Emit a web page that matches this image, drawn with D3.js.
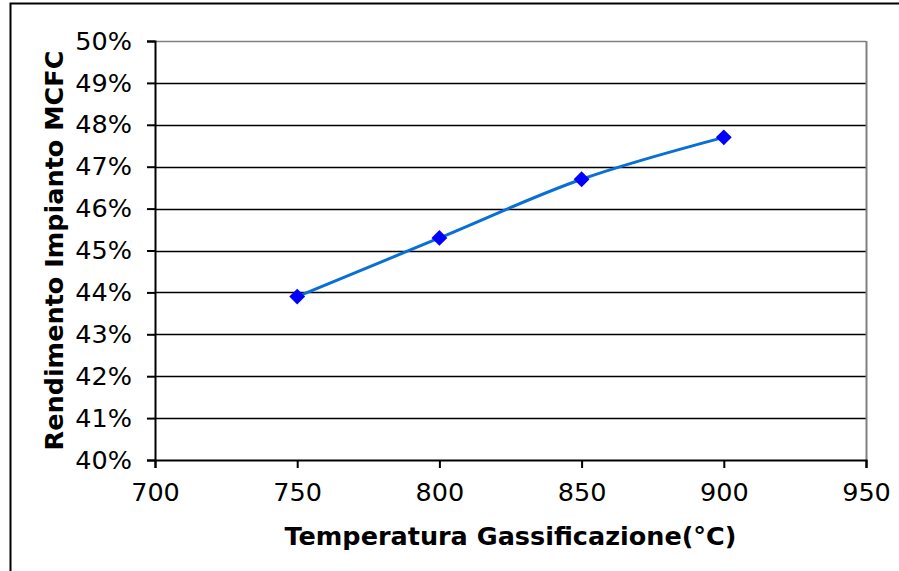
<!DOCTYPE html>
<html>
<head>
<meta charset="utf-8">
<script src="https://cdn.jsdelivr.net/npm/d3@7"></script>
<style>
  body { margin: 0; background: #fff; }
  svg { display: block; }
</style>
</head>
<body>
<div id="chart"></div>
<script>
// Data
var temps = [750, 800, 850, 900];
var rendimento = [0.439, 0.453, 0.467, 0.477];
var xTicks = [700, 750, 800, 850, 900, 950];
var yTicks = [0.40, 0.41, 0.42, 0.43, 0.44, 0.45, 0.46, 0.47, 0.48, 0.49, 0.50];

var W = 899, H = 571;
var margin = { top: 41, right: 33, bottom: 111, left: 155 },
    width = W - margin.left - margin.right,
    height = H - margin.top - margin.bottom;

var font = "DejaVu Sans, Verdana, sans-serif";

var root = d3.select("#chart").append("svg")
    .attr("width", W)
    .attr("height", H);

// outer chart frame (only left and top edges visible)
root.append("rect")
    .attr("x", 10.5).attr("y", 3.5)
    .attr("width", W + 20).attr("height", H + 20)
    .attr("fill", "#fff")
    .attr("stroke", "#000")
    .attr("stroke-width", 2);

var svg = root.append("g")
    .attr("transform", `translate(${margin.left}, ${margin.top})`);

var x = d3.scaleLinear().domain([700, 950]).range([0, width]);
var y = d3.scaleLinear().domain([0.40, 0.50]).range([height, 0]);

// gridlines
svg.selectAll(".grid")
    .data(yTicks.slice(1))
    .enter().append("line")
    .attr("class", "grid")
    .attr("x1", 0).attr("x2", width)
    .attr("y1", d => Math.round(y(d)) + 0.5)
    .attr("y2", d => Math.round(y(d)) + 0.5)
    .attr("stroke", d => d === 0.50 ? "#808080" : "#000")
    .attr("stroke-width", 1.5);

// right edge of plot area
svg.append("line")
    .attr("x1", width + 0.5).attr("x2", width + 0.5)
    .attr("y1", 0).attr("y2", height)
    .attr("stroke", "#808080")
    .attr("stroke-width", 2);

// axes
var xAxis = svg.append("g")
    .attr("transform", `translate(0, ${height})`)
    .call(d3.axisBottom(x).tickValues(xTicks).tickSize(8).tickPadding(15).tickFormat(d3.format("d")));

var yAxis = svg.append("g")
    .call(d3.axisLeft(y).tickValues(yTicks).tickSize(8).tickPadding(15).tickFormat(d3.format(".0%")));

[xAxis, yAxis].forEach(function (a) {
    a.select(".domain").attr("stroke", "#000").attr("stroke-width", 2);
    a.selectAll(".tick line").attr("stroke", "#000").attr("stroke-width", 2);
    a.selectAll("text")
        .style("fill", "#000")
        .style("font-family", font)
        .style("font-size", "25.5px");
});

// trend line
var line = d3.line()
    .x((d, i) => x(temps[i]))
    .y(d => y(d))
    .curve(d3.curveCatmullRom);

svg.append("path")
    .datum(rendimento)
    .attr("d", line)
    .attr("fill", "none")
    .attr("stroke", "#0870D4")
    .attr("stroke-width", 3);

// diamond markers
svg.selectAll(".pt")
    .data(rendimento)
    .enter().append("path")
    .attr("class", "pt")
    .attr("d", d3.symbol().type(d3.symbolDiamond2).size(160))
    .attr("transform", (d, i) => `translate(${x(temps[i])}, ${y(d)})`)
    .attr("fill", "#0000FF");

// axis titles
svg.append("text")
    .attr("x", width / 2)
    .attr("y", height + 85)
    .attr("text-anchor", "middle")
    .style("font-family", font)
    .style("font-weight", "bold")
    .style("font-size", "25.5px")
    .text("Temperatura Gassificazione(°C)");

svg.append("text")
    .attr("transform", `translate(${-92}, ${height / 2}) rotate(-90)`)
    .attr("text-anchor", "middle")
    .style("font-family", font)
    .style("font-weight", "bold")
    .style("font-size", "25.5px")
    .text("Rendimento Impianto MCFC");
</script>
</body>
</html>
